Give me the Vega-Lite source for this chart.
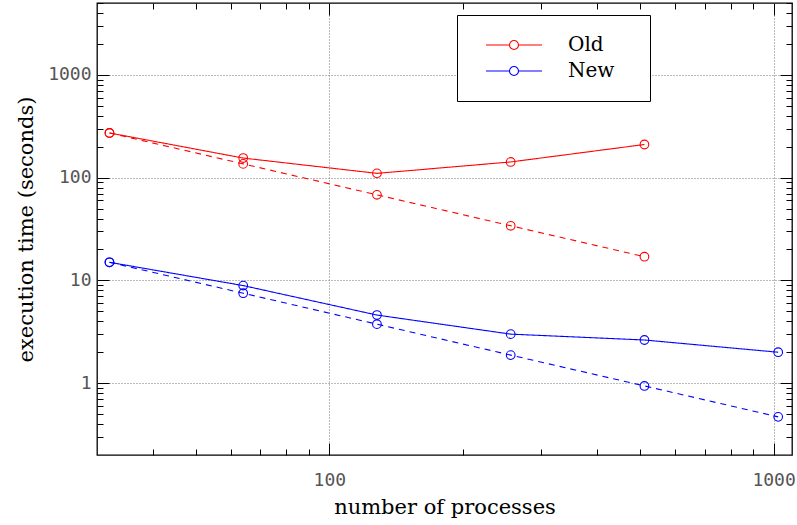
{
  "$schema": "https://vega.github.io/schema/vega-lite/v6.json",
  "width": 695,
  "height": 452,
  "autosize": "none",
  "padding": {"left": 97, "top": 3, "right": 5, "bottom": 70},
  "background": "white",
  "config": {"view": {"stroke": "#000", "strokeWidth": 1.3}},
  "data": {
    "values": [
      {"p": 32, "time": 272, "series": "Old", "kind": "actual"},
      {"p": 64, "time": 155, "series": "Old", "kind": "actual"},
      {"p": 128, "time": 110, "series": "Old", "kind": "actual"},
      {"p": 256, "time": 142, "series": "Old", "kind": "actual"},
      {"p": 512, "time": 210, "series": "Old", "kind": "actual"},
      {"p": 32, "time": 272, "series": "Old", "kind": "ideal"},
      {"p": 64, "time": 136, "series": "Old", "kind": "ideal"},
      {"p": 128, "time": 68, "series": "Old", "kind": "ideal"},
      {"p": 256, "time": 34, "series": "Old", "kind": "ideal"},
      {"p": 512, "time": 17, "series": "Old", "kind": "ideal"},
      {"p": 32, "time": 15, "series": "New", "kind": "actual"},
      {"p": 64, "time": 8.9, "series": "New", "kind": "actual"},
      {"p": 128, "time": 4.6, "series": "New", "kind": "actual"},
      {"p": 256, "time": 3.0, "series": "New", "kind": "actual"},
      {"p": 512, "time": 2.63, "series": "New", "kind": "actual"},
      {"p": 1024, "time": 2.0, "series": "New", "kind": "actual"},
      {"p": 32, "time": 15, "series": "New", "kind": "ideal"},
      {"p": 64, "time": 7.5, "series": "New", "kind": "ideal"},
      {"p": 128, "time": 3.75, "series": "New", "kind": "ideal"},
      {"p": 256, "time": 1.875, "series": "New", "kind": "ideal"},
      {"p": 512, "time": 0.94, "series": "New", "kind": "ideal"},
      {"p": 1024, "time": 0.47, "series": "New", "kind": "ideal"}
    ]
  },
  "layer": [
    {
      "mark": {"type": "line", "strokeWidth": 1.1},
      "encoding": {
        "x": {
          "field": "p", "type": "quantitative",
          "scale": {"type": "log", "domain": [30, 1100], "nice": false},
          "axis": {
            "orient": "bottom",
            "values": [40, 50, 60, 70, 80, 90, 100, 200, 300, 400, 500, 600, 700, 800, 900, 1000],
            "labelExpr": "(datum.value == 100 || datum.value == 1000) ? format(datum.value, 'd') : ''",
            "labelOverlap": false,
            "labelBound": false,
            "labelFont": "DejaVu Sans Mono",
            "labelFontSize": 18,
            "labelColor": "#555",
            "labelPadding": 28,
            "ticks": true,
            "tickColor": "#000",
            "tickWidth": 1,
            "tickSize": -12,
            "tickDash": {"condition": {"test": "datum.value == 100 || datum.value == 1000", "value": [12, 0]}, "value": [6, 30]},
            "grid": true,
            "gridColor": "#777",
            "gridDash": [1, 2],
            "gridOpacity": {"condition": {"test": "datum.value == 100 || datum.value == 1000", "value": 1}, "value": 0},
            "domain": false,
            "title": "number of processes",
            "titleFont": "DejaVu Serif",
            "titleFontSize": 21,
            "titleFontWeight": "normal",
            "titleColor": "#000",
            "titlePadding": 7
          }
        },
        "y": {
          "field": "time", "type": "quantitative",
          "scale": {"type": "log", "domain": [0.2, 5000], "nice": false},
          "axis": {
            "orient": "left",
            "values": [0.3, 0.4, 0.5, 0.6, 0.7, 0.8, 0.9, 1, 2, 3, 4, 5, 6, 7, 8, 9, 10, 20, 30, 40, 50, 60, 70, 80, 90, 100, 200, 300, 400, 500, 600, 700, 800, 900, 1000, 2000, 3000, 4000, 5000],
            "labelExpr": "(datum.value == 1 || datum.value == 10 || datum.value == 100 || datum.value == 1000) ? format(datum.value, 'd') : ''",
            "labelOverlap": false,
            "labelBound": false,
            "labelFont": "DejaVu Sans Mono",
            "labelFontSize": 18,
            "labelColor": "#555",
            "labelPadding": 18,
            "ticks": true,
            "tickColor": "#000",
            "tickWidth": 1,
            "tickSize": -12,
            "tickDash": {"condition": {"test": "datum.value == 1 || datum.value == 10 || datum.value == 100 || datum.value == 1000", "value": [12, 0]}, "value": [6, 30]},
            "grid": true,
            "gridColor": "#777",
            "gridDash": [1, 2],
            "gridOpacity": {"condition": {"test": "datum.value == 1 || datum.value == 10 || datum.value == 100 || datum.value == 1000", "value": 1}, "value": 0},
            "domain": false,
            "title": "execution time (seconds)",
            "titleFont": "DejaVu Serif",
            "titleFontSize": 21,
            "titleFontWeight": "normal",
            "titleColor": "#000",
            "titlePadding": 11
          }
        },
        "color": {
          "field": "series", "type": "nominal",
          "scale": {"domain": ["Old", "New"], "range": ["#ff0000", "#0000ff"]},
          "legend": {
            "orient": "none",
            "legendX": 360,
            "legendY": 12,
            "title": null,
            "padding": 20,
            "strokeColor": "#000",
            "fillColor": "white",
            "symbolType": "M-5.6,0L-0.9,0M0.9,0L5.6,0M0.9,0A0.9,0.9,0,1,1,-0.9,0A0.9,0.9,0,1,1,0.9,0",
            "symbolSize": 100,
            "symbolStrokeWidth": 1.1,
            "symbolFillColor": "transparent",
            "symbolOffset": 27,
            "labelOffset": 44,
            "labelExpr": "datum.label + '\u2800'",
            "labelFont": "DejaVu Serif",
            "labelFontSize": 20,
            "labelColor": "#000",
            "rowPadding": 6
          }
        },
        "strokeDash": {
          "field": "kind", "type": "nominal",
          "scale": {"domain": ["actual", "ideal"], "range": [[1, 0], [6, 5]]},
          "legend": null
        }
      }
    },
    {
      "mark": {"type": "point", "filled": false, "size": 75, "strokeWidth": 1.1, "opacity": 1},
      "encoding": {
        "x": {"field": "p", "type": "quantitative", "axis": null},
        "y": {"field": "time", "type": "quantitative", "axis": null},
        "color": {"field": "series", "type": "nominal"}
      }
    },
    {
      "mark": {"type": "point", "opacity": 0},
      "encoding": {
        "x": {
          "field": "p", "type": "quantitative",
          "axis": {
            "orient": "top",
            "values": [40, 50, 60, 70, 80, 90, 100, 200, 300, 400, 500, 600, 700, 800, 900, 1000],
            "labels": false,
            "grid": false,
            "domain": false,
            "title": null,
            "ticks": true,
            "tickColor": "#000",
            "tickSize": -12,
            "tickDash": {"condition": {"test": "datum.value == 100 || datum.value == 1000", "value": [12, 0]}, "value": [6, 30]}
          }
        },
        "y": {
          "field": "time", "type": "quantitative",
          "axis": {
            "orient": "right",
            "values": [0.3, 0.4, 0.5, 0.6, 0.7, 0.8, 0.9, 1, 2, 3, 4, 5, 6, 7, 8, 9, 10, 20, 30, 40, 50, 60, 70, 80, 90, 100, 200, 300, 400, 500, 600, 700, 800, 900, 1000, 2000, 3000, 4000, 5000],
            "labels": false,
            "grid": false,
            "domain": false,
            "title": null,
            "ticks": true,
            "tickColor": "#000",
            "tickSize": -12,
            "tickDash": {"condition": {"test": "datum.value == 1 || datum.value == 10 || datum.value == 100 || datum.value == 1000", "value": [12, 0]}, "value": [6, 30]}
          }
        }
      }
    }
  ],
  "resolve": {"axis": {"x": "independent", "y": "independent"}}
}
